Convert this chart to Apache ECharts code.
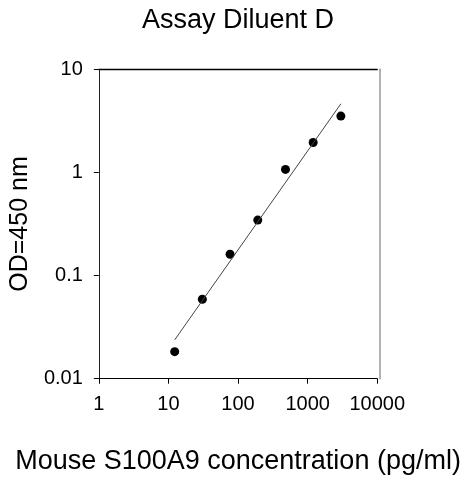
<!DOCTYPE html>
<html>
<head>
<meta charset="utf-8">
<script src="https://cdn.jsdelivr.net/npm/echarts@6/dist/echarts.min.js"></script>
<style>
html,body{margin:0;padding:0;background:#fff;}
#c{width:463px;height:480px;}
</style>
</head>
<body>
<div id="c"></div>
<script>
var concentration = [12.3, 30.7, 76.8, 192, 480, 1200, 3000];
var od = [0.0183, 0.059, 0.161, 0.345, 1.07, 1.95, 3.52];
var fitX = [12.3, 3000];
var fitY = [0.0238, 4.63];
var xTicks = [1, 10, 100, 1000, 10000];
var yTicks = [0.01, 0.1, 1, 10];

var FONT = '"Liberation Sans", Arial, sans-serif';
var chart = echarts.init(document.getElementById('c'), null, {renderer: 'canvas'});

function pairs(a, b) { return a.map(function (v, i) { return [v, b[i]]; }); }

chart.setOption({
  animation: false,
  backgroundColor: '#fff',
  title: {
    text: 'Assay Diluent D',
    left: 233, top: 2, textAlign: 'center',
    textStyle: {fontFamily: FONT, fontSize: 27, fontWeight: 'normal', color: '#000'}
  },
  grid: {left: 97, right: 83.5, top: 69.3, bottom: 101.3, containLabel: false},
  xAxis: [{
    type: 'log', logBase: 10, min: xTicks[0], max: xTicks[xTicks.length - 1],
    name: 'Mouse S100A9 concentration (pg/ml)', nameLocation: 'middle', nameGap: 69,
    nameTextStyle: {fontFamily: FONT, fontSize: 27, color: '#000'},
    axisLine: {show: true, lineStyle: {color: '#000', width: 1}},
    axisTick: {show: true, length: 5, lineStyle: {color: '#000'}},
    minorTick: {show: false},
    splitLine: {show: false},
    axisLabel: {fontFamily: FONT, fontSize: 20, color: '#000', margin: 16,
      formatter: function (v) { return String(Math.round(v)); }}
  }, {
    type: 'log', logBase: 10, min: xTicks[0], max: xTicks[xTicks.length - 1], position: 'top',
    axisLine: {show: true, lineStyle: {color: '#000', width: 1.3}},
    axisTick: {show: false}, axisLabel: {show: false}, splitLine: {show: false}
  }],
  yAxis: [{
    type: 'log', logBase: 10, min: yTicks[0], max: yTicks[yTicks.length - 1],
    name: 'OD=450 nm', nameLocation: 'middle', nameGap: 64, nameRotate: 90,
    nameTextStyle: {fontFamily: FONT, fontSize: 25, color: '#000'},
    axisLine: {show: true, lineStyle: {color: '#222', width: 1}},
    axisTick: {show: true, length: 5, lineStyle: {color: '#000'}},
    minorTick: {show: false},
    splitLine: {show: false},
    axisLabel: {fontFamily: FONT, fontSize: 20, color: '#000', margin: 16,
      formatter: function (v) { return String(v); }}
  }, {
    type: 'log', logBase: 10, min: yTicks[0], max: yTicks[yTicks.length - 1], position: 'right', offset: 2.5,
    axisLine: {show: true, lineStyle: {color: '#999', width: 1.5}},
    axisTick: {show: false}, axisLabel: {show: false}, splitLine: {show: false}
  }],
  series: [{
    type: 'line',
    data: pairs(fitX, fitY),
    showSymbol: false, symbol: 'none',
    lineStyle: {color: '#444', width: 1},
    silent: true
  }, {
    type: 'scatter',
    data: pairs(concentration, od),
    symbol: 'circle', symbolSize: 9,
    itemStyle: {color: '#000', opacity: 1}
  }]
});
</script>
</body>
</html>
